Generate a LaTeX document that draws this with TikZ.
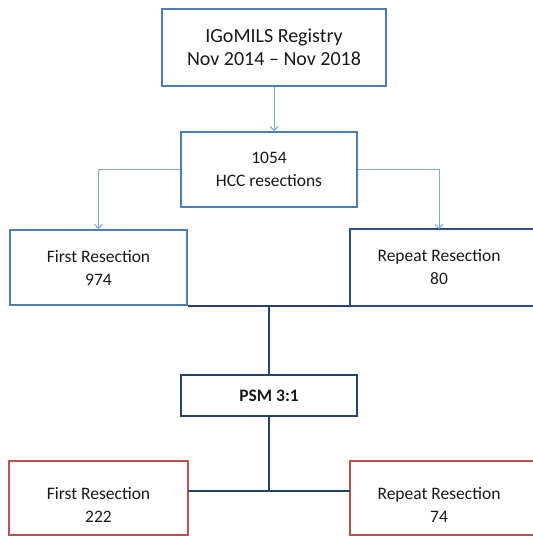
\documentclass[tikz,border=0pt]{standalone}
\usepackage{fontspec}
\setmainfont{Carlito}
\usetikzlibrary{arrows.meta}
\definecolor{regblue}{RGB}{74,126,187}
\definecolor{feedblue}{RGB}{125,165,212}
\definecolor{repnavy}{RGB}{45,78,130}
\definecolor{psmnavy}{RGB}{40,66,108}
\definecolor{matchred}{RGB}{192,80,77}

\begin{document}
\begin{tikzpicture}[x=1pt,y=-1pt]
      \tikzset{box/.style = {shape=rectangle,draw=regblue,line width=2pt,minimum width=176pt,minimum height=75pt,inner sep=0pt,align=center,text=black!90,font=\fontsize{17.5}{23}\selectfont}}
      \tikzset{feed/.style = {draw=feedblue,line width=1pt,->,> = {Straight Barb[length=4pt,width=8pt]}}}
      \tikzset{link/.style = {draw=psmnavy,line width=2pt}}
      \useasboundingbox (0,0) rectangle (533,536);
      \clip (0,0) rectangle (533,536);

      \node[box,minimum width=224pt,minimum height=77pt,font=\fontsize{20}{23}\selectfont] (reg) at (274,47.5) {IGoMILS Registry\\Nov 2014 -- Nov 2018};
      \node[box] (hcc) at (269,169.5) {1054\\HCC resections};

      \node[box,minimum width=177pt] (first) at (98.5,267.5) {First Resection\\974};
      \node[box,draw=none] (rep) at (439,267.5) {Repeat Resection\\80};
      \draw[line width=2pt,draw=repnavy] (rep.south west) rectangle ([xshift=20pt]rep.north east);

      \node[box,draw=psmnavy,minimum height=41pt,font=\fontsize{17.5}{23}\selectfont\bfseries] (psm) at (269,395.5) {PSM 3:1};

      \node[box,draw=none,minimum width=177pt,minimum height=72pt] (first2) at (98.5,505) {First Resection\\222};
      \node[box,draw=none,minimum height=72pt] (rep2) at (439,505) {Repeat Resection\\74};
      \draw[line width=2pt,draw=matchred] ([yshift=7pt]first2.south west) rectangle ([yshift=7pt]first2.north east);
      \draw[line width=2pt,draw=matchred] ([yshift=7pt]rep2.south west) rectangle ([xshift=20pt,yshift=7pt]rep2.north east);
      \coordinate (join) at (269,491);

      \draw[feed] (reg.south -| 274,0) to (hcc.north -| 274,0);
      \draw[feed] (hcc.west) -| (first.north);
      \draw[feed] (hcc.east) -| (rep.north);

      \draw[link] (first.south east) to (rep.south west);
      \draw[link] (psm.north) to (psm.north |- first.south);
      \draw[link] (psm.south) to (join);
      \draw[link] (join -| first2.east) to (join -| rep2.west);
\end{tikzpicture}
\end{document}
